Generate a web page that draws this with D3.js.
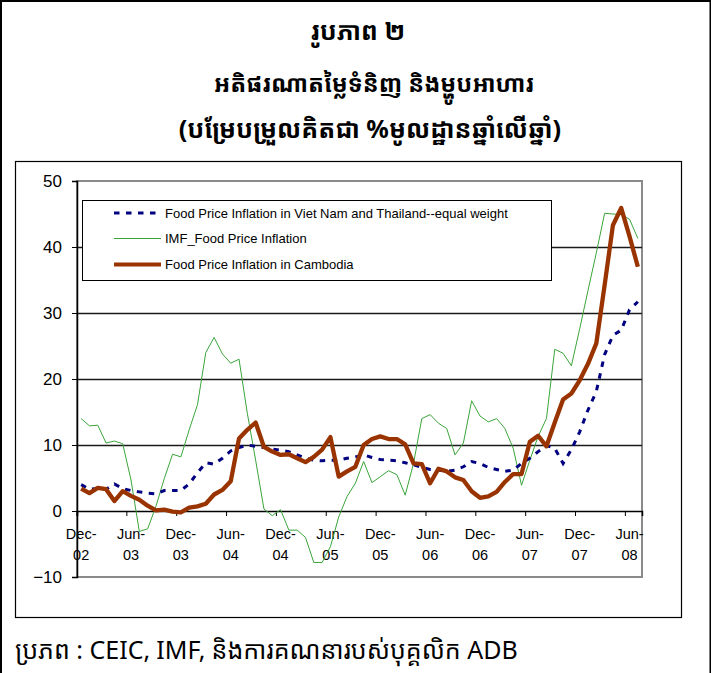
<!DOCTYPE html>
<html>
<head>
<meta charset="utf-8">
<script src="https://cdn.jsdelivr.net/npm/d3@7"></script>
<style>
  body { margin: 0; background: #fff; }
  .kh { font-family: "Khmer OS", "Noto Sans Khmer", "Noto Serif Khmer", "Khmer OS System", sans-serif; }
  .lat { font-family: "Liberation Sans", Arial, sans-serif; }
</style>
</head>
<body>
<div id="chart"></div>
<script>
// monthly categories, Dec-02 .. Jul-08
var months = d3.timeMonth.range(new Date(2002, 11, 1), new Date(2008, 7, 1));

var vnth = [4.0,3.3,3.4,3.3,4.1,3.4,3.1,2.9,2.7,2.6,3.1,3.1,3.1,4.1,5.8,7.3,7.1,8.0,9.1,9.6,
  10.0,9.8,9.6,9.4,9.2,9.0,8.5,8.0,7.7,7.6,7.7,7.7,8.0,8.2,8.5,8.1,7.8,7.7,7.6,7.3,
  7.0,6.6,6.3,6.2,6.0,6.2,6.7,7.5,7.2,6.6,6.3,6.0,6.2,7.2,8.0,9.0,9.9,9.5,7.2,9.3,
  12.0,15.3,18.1,23.7,26.6,27.4,30.5,31.7];

var imf = [14.0,12.9,13.0,10.3,10.6,10.2,4.7,-3.1,-2.7,0.7,4.9,8.6,8.2,12.3,16.1,24.0,26.3,23.8,22.4,23.0,
  14.8,7.7,0.3,-0.7,0.2,-2.9,-2.9,-4.0,-7.8,-7.8,-5.4,-0.9,2.2,4.2,7.5,4.3,5.2,6.1,5.5,2.4,
  7.2,14.0,14.6,13.3,12.5,8.5,10.3,16.7,14.4,13.5,14.0,12.5,9.5,3.9,7.7,11.3,14.0,24.5,23.9,22.0,
  27.6,33.4,39.1,45.1,45.0,44.9,44.2,41.3];

var cambodia = [3.4,2.7,3.5,3.3,1.5,3.0,2.3,1.7,0.8,0.1,0.2,-0.1,-0.2,0.5,0.7,1.1,2.5,3.2,4.5,11.0,
  12.3,13.4,9.7,9.0,8.5,8.6,8.0,7.4,8.2,9.3,11.2,5.2,6.0,6.7,10.0,10.9,11.3,10.9,10.9,10.1,
  7.2,7.1,4.2,6.4,6.0,5.1,4.7,3.0,2.0,2.2,2.9,4.4,5.6,5.6,10.5,11.4,9.8,13.4,16.9,17.8,
  19.8,22.3,25.4,34.2,43.3,45.9,41.6,37.0];

var yTicks = [-10, 0, 10, 20, 30, 40, 50];

var seriesNames = [
  "Food Price Inflation in Viet Nam and Thailand--equal weight",
  "IMF_Food Price Inflation",
  "Food Price Inflation in Cambodia"
];

var titleLines = ["រូបភាព ២", "អតិផរណាតម្លៃទំនិញ និងម្ហូបអាហារ", "(បម្រែបម្រួលគិតជា %មូលដ្ឋានឆ្នាំលើឆ្នាំ)"];
var source = "ប្រភព : CEIC, IMF,  និងការគណនារបស់បុគ្គលិក ADB";

var width = 711, height = 673;
var svg = d3.select("#chart").append("svg")
  .attr("width", width).attr("height", height);

// outer frame (top, left, right only)
svg.append("path")
  .attr("d", "M1,673V1H710.5V673")
  .attr("fill", "none").attr("stroke", "#000").attr("stroke-width", 2);

// titles
var titleY = [40, 92, 138];
var titleX = [358, 374, 370];
var titleSize = [25, 23.5, 25];
svg.selectAll("text.title").data(titleLines).enter().append("text")
  .attr("class", "title kh")
  .attr("x", function(d, i) { return titleX[i]; })
  .attr("y", function(d, i) { return titleY[i]; })
  .attr("text-anchor", "middle")
  .attr("font-size", function(d, i) { return titleSize[i]; })
  .attr("font-weight", "bold")
  .text(function(d) { return d; });

// chart area box
svg.append("rect")
  .attr("x", 15.5).attr("y", 161.5).attr("width", 666).attr("height", 456)
  .attr("fill", "#fff").attr("stroke", "#000").attr("stroke-width", 1.2);

var x = d3.scaleBand().domain(months).range([77, 642]);
var y = d3.scaleLinear().domain([-10, 50]).range([577, 181]);
var cx = function(d, i) { return x(months[i]) + x.bandwidth() / 2; };

// plot area border
svg.append("rect")
  .attr("x", 77).attr("y", 181).attr("width", 642 - 77).attr("height", 577 - 181)
  .attr("fill", "none").attr("stroke", "#8a8a8a").attr("stroke-width", 2);

// gridlines
svg.append("g").selectAll("line")
  .data([10, 20, 30, 40]).enter().append("line")
  .attr("x1", 77).attr("x2", 642)
  .attr("y1", function(d) { return y(d) + 0.5; }).attr("y2", function(d) { return y(d) + 0.5; })
  .attr("stroke", "#1a1a1a").attr("stroke-width", 1.3);

// y axis
var yAxis = svg.append("g")
  .attr("transform", "translate(77,0)")
  .call(d3.axisLeft(y).tickValues(yTicks).tickSize(5).tickPadding(10).tickFormat(d3.format("d")));
yAxis.select(".domain").attr("stroke", "#000").attr("stroke-width", 1.5);
yAxis.selectAll(".tick line").attr("stroke", "#000");
yAxis.selectAll(".tick text")
  .attr("class", "lat").attr("font-size", 17).attr("fill", "#000");

// x axis on the zero line, ticks between categories, label every 6 months
var labelled = months.filter(function(d, i) { return i % 6 === 0; });
var fmtMon = d3.timeFormat("%b-"), fmtYr = d3.timeFormat("%y");
var xAxis = svg.append("g")
  .attr("transform", "translate(0," + y(0) + ")")
  .call(d3.axisBottom(x).tickValues(labelled).tickSize(5).tickFormat(""));
xAxis.select(".domain").attr("stroke", "#000").attr("stroke-width", 1.5);
xAxis.selectAll(".tick line")
  .attr("stroke", "#000")
  .attr("transform", "translate(" + (-x.bandwidth() / 2) + ",0)");
xAxis.selectAll(".tick").each(function(d) {
  var t = d3.select(this).append("text")
    .attr("class", "lat").attr("fill", "#000").attr("font-size", 14.5)
    .attr("text-anchor", "middle");
  t.append("tspan").attr("x", 0).attr("y", 28).text(fmtMon(d));
  t.append("tspan").attr("x", 0).attr("y", 49).text(fmtYr(d));
});

// series
var line = d3.line().x(cx).y(function(d) { return y(d); });

svg.append("path").datum(imf)
  .attr("d", line).attr("fill", "none")
  .attr("stroke", "#3aa53a").attr("stroke-width", 1);

svg.append("path").datum(vnth)
  .attr("d", line).attr("fill", "none")
  .attr("stroke", "#000080").attr("stroke-width", 3)
  .attr("stroke-dasharray", "5.5,6.5");

svg.append("path").datum(cambodia)
  .attr("d", line).attr("fill", "none")
  .attr("stroke", "#993300").attr("stroke-width", 4.3)
  .attr("stroke-linejoin", "round");

// legend
var legend = svg.append("g");
legend.append("rect")
  .attr("x", 82.5).attr("y", 200.5).attr("width", 469).attr("height", 80)
  .attr("fill", "#fff").attr("stroke", "#000").attr("stroke-width", 1);

var legStyle = [
  { stroke: "#000080", w: 3, dash: "5.5,6.5" },
  { stroke: "#3aa53a", w: 1, dash: null },
  { stroke: "#993300", w: 4, dash: null }
];
var legY = [213, 238.5, 264.5];
var item = legend.selectAll("g.item").data(seriesNames).enter().append("g")
  .attr("class", "item")
  .attr("transform", function(d, i) { return "translate(0," + legY[i] + ")"; });
item.append("line")
  .attr("x1", 114).attr("x2", 161)
  .attr("stroke", function(d, i) { return legStyle[i].stroke; })
  .attr("stroke-width", function(d, i) { return legStyle[i].w; })
  .attr("stroke-dasharray", function(d, i) { return legStyle[i].dash; });
item.append("text")
  .attr("class", "lat")
  .attr("x", 165).attr("y", 4.5)
  .attr("font-size", 13)
  .text(function(d) { return d; });

// source
svg.append("text")
  .attr("class", "kh")
  .attr("x", 15).attr("y", 659)
  .attr("font-size", 25)
  .text(source);
</script>
</body>
</html>
